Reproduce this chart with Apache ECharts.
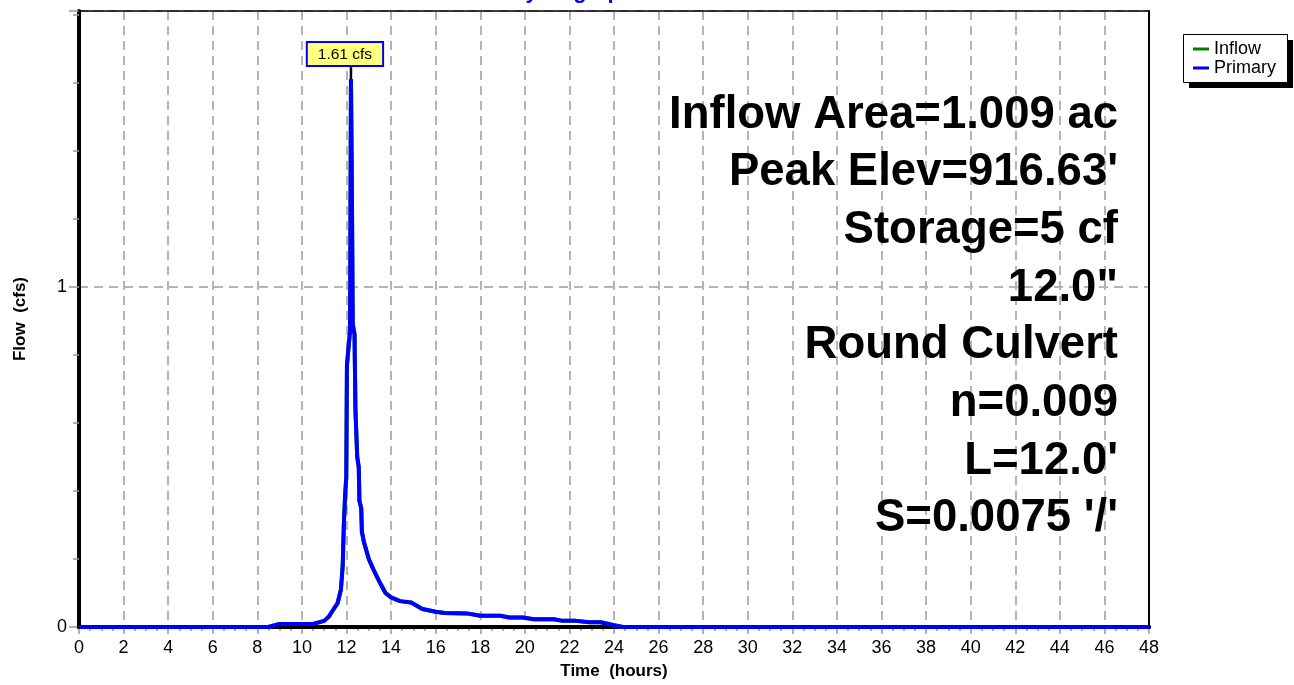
<!DOCTYPE html>
<html>
<head>
<meta charset="utf-8">
<script src="https://cdn.jsdelivr.net/npm/echarts@6/dist/echarts.min.js"></script>
<style>
  html, body { margin: 0; padding: 0; background: #fff; }
  #chart { width: 1294px; height: 685px; }
</style>
</head>
<body>
<div id="chart"></div>
<script>
// hydrograph readings (hours, cfs)
const hours = [0, 8.5, 9.0, 10.5, 11.0, 11.2, 11.4, 11.6, 11.75, 11.83, 11.88, 11.94, 11.99, 12.02, 12.16,
  12.2, 12.24, 12.28, 12.36, 12.4, 12.48, 12.55, 12.58, 12.66, 12.69, 12.78, 13.0, 13.2, 13.5, 13.75,
  14.0, 14.4, 14.9, 15.4, 16.0, 16.4, 17.4, 18.0, 18.9, 19.3, 19.9, 20.4, 21.3, 21.7, 22.3,
  22.9, 23.4, 24.0, 24.4, 48];
const primary = [0, 0, 0.009, 0.009, 0.018, 0.03, 0.05, 0.07, 0.11, 0.18, 0.3, 0.39, 0.44, 0.77, 0.87,
  1.61, 1.3, 0.89, 0.86, 0.64, 0.5, 0.47, 0.37, 0.35, 0.28, 0.25, 0.2, 0.17, 0.13, 0.1,
  0.087, 0.076, 0.072, 0.053, 0.045, 0.041, 0.04, 0.033, 0.033, 0.028, 0.028, 0.023, 0.023, 0.018, 0.018,
  0.014, 0.014, 0.005, 0, 0];
// inflow lies right under the primary curve (hidden in the picture)
const inflow = primary;

const notes = [
  'Inflow Area=1.009 ac',
  "Peak Elev=916.63'",
  'Storage=5 cf',
  '12.0"',
  'Round Culvert',
  'n=0.009',
  "L=12.0'",
  "S=0.0075 '/'"
];

const FONT = 'Liberation Sans, Arial, sans-serif';
const peakFlow = Math.max(...primary);
const peakHour = hours[primary.indexOf(peakFlow)];

const pairs = arr => hours.map((h, i) => [h, arr[i]]);

const noteGraphics = notes.map((t, i) => ({
  type: 'text', z: 100,
  style: {
    text: t, x: 1118, y: 115 + i * 57.7,
    textAlign: 'right', textVerticalAlign: 'middle',
    fontFamily: FONT, fontWeight: 'bold', fontSize: 45.5, fill: '#000'
  }
}));

// frame-only axes (top / right edges of the plot)
const edgeAxis = extra => Object.assign({
  type: 'value', z: 3,
  axisTick: { show: false }, axisLabel: { show: false }, splitLine: { show: false }
}, extra);

const chart = echarts.init(document.getElementById('chart'));
chart.setOption({
  animation: false,
  backgroundColor: '#fff',
  textStyle: { fontFamily: FONT },
  grid: { left: 79, right: 145, top: 11, bottom: 53 },
  legend: {
    orient: 'vertical', left: 1183, top: 35, z: 10,
    data: ['Inflow', 'Primary'],
    icon: 'rect', itemWidth: 16, itemHeight: 3, itemGap: 1,
    padding: [5, 5, 5, 10],
    textStyle: { fontSize: 18, color: '#000', fontFamily: FONT }
  },
  xAxis: [{
    type: 'value', min: 0, max: 48, interval: 2,
    name: 'Time  (hours)', nameLocation: 'middle', nameGap: 36,
    nameTextStyle: { fontWeight: 'bold', fontSize: 17, color: '#000' },
    axisLine: { onZero: false, lineStyle: { color: '#000', width: 4 } },
    axisTick: { length: 7, lineStyle: { color: '#999', width: 1.5 } },
    minorTick: { show: true, splitNumber: 4, length: 4, lineStyle: { color: '#999', width: 1.5 } },
    axisLabel: { fontSize: 18, color: '#000', margin: 12 },
    splitLine: { show: true, lineStyle: { color: '#b4b4b4', width: 2, type: [9, 6] } }
  },
  edgeAxis({ min: 0, max: 48, position: 'bottom',
    axisLine: { onZero: false, lineStyle: { color: '#000', width: 4 } } }),
  edgeAxis({ min: 0, max: 48, position: 'top',
    axisLine: { onZero: false, lineStyle: { color: '#000', width: 1.5 } } })
  ],
  yAxis: [{
    type: 'value', min: 0, max: 1.81, interval: 1, position: 'left',
    name: 'Flow  (cfs)', nameLocation: 'middle', nameGap: 50,
    nameTextStyle: { fontWeight: 'bold', fontSize: 17, color: '#000' },
    axisLine: { show: true, onZero: false, lineStyle: { color: '#000', width: 4 } },
    axisTick: { length: 10, lineStyle: { color: '#999', width: 1.5 } },
    axisLabel: { fontSize: 18, color: '#000', margin: 12,
      formatter: v => Number.isInteger(v) ? String(v) : '' },
    splitLine: { show: true, lineStyle: { color: '#b4b4b4', width: 2, type: [9, 6] } }
  }, {
    type: 'value', min: 0, max: 1.81, interval: 0.2, position: 'left',
    axisLine: { show: false },
    axisTick: { length: 6, lineStyle: { color: '#999', width: 1.5 } },
    axisLabel: { show: false }, splitLine: { show: false }
  },
  edgeAxis({ min: 0, max: 1.81, position: 'right',
    axisLine: { show: true, onZero: false, lineStyle: { color: '#000', width: 2 } } })
  ],
  graphic: [{
    type: 'text', z: 100,
    style: {
      text: 'Hydrograph', x: 572, y: 3, textAlign: 'center', textVerticalAlign: 'bottom',
      fontFamily: FONT, fontWeight: 'bold', fontSize: 22, fill: '#0000ff'
    }
  }, {
    // legend box shadow + frame
    type: 'rect', z: 1, shape: { x: 1189, y: 40, width: 104, height: 48 },
    style: { fill: '#000' }
  }, {
    type: 'rect', z: 2, shape: { x: 1183.5, y: 34.5, width: 104, height: 48 },
    style: { fill: '#fff', stroke: '#000', lineWidth: 1 }
  }].concat(noteGraphics),
  series: [{
    name: 'Inflow', type: 'line', showSymbol: false, color: '#008000',
    data: pairs(inflow), lineStyle: { width: 4, color: '#008000' }
  }, {
    name: 'Primary', type: 'line', showSymbol: false, color: '#0000ff',
    data: pairs(primary), lineStyle: { width: 4, color: '#0000ff' },
    markPoint: {
      symbol: 'rect', symbolSize: [2.5, 14], symbolOffset: [0, '-50%'],
      itemStyle: { color: '#000' },
      label: {
        show: true, position: 'top', distance: 0, offset: [-6, 0],
        formatter: peakFlow.toFixed(2) + ' cfs',
        backgroundColor: '#ffff80', borderColor: '#0000ff', borderWidth: 2,
        padding: [4, 10, 2, 10], color: '#000', fontSize: 15.5
      },
      data: [{ coord: [peakHour, peakFlow] }]
    }
  }]
});
</script>
</body>
</html>
